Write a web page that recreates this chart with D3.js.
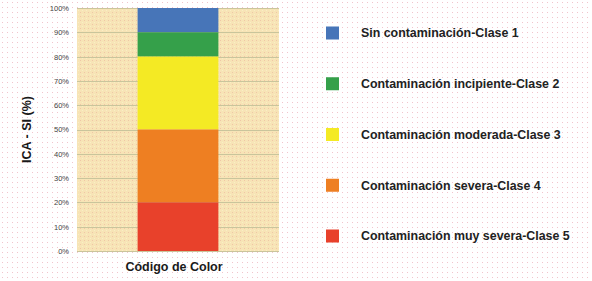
<!DOCTYPE html>
<html lang="es">
    <head>
        <meta charset="utf-8">
        <title>Código de Color ICA - SI</title>
        <script type="text/javascript" src="https://d3js.org/d3.v7.min.js"></script>
        <style>
            body {
                margin: 0;
                background: white;
            }

            text {
                font-family: "Liberation Sans", Arial, sans-serif;
            }

            .tick text {
                font-size: 7.5px;
                fill: #444;
            }

            .title {
                font-weight: bold;
                font-size: 12.5px;
                fill: #1a1a1a;
            }

            .legendLabel {
                font-weight: bold;
                font-size: 12.4px;
                fill: #222;
            }
        </style>
    </head>
    <body>
        <div id="svgContainer"></div>
        <script type="text/javascript">
            //chart data
            let classes = ["Sin contaminación-Clase 1", "Contaminación incipiente-Clase 2",
                           "Contaminación moderada-Clase 3", "Contaminación severa-Clase 4",
                           "Contaminación muy severa-Clase 5"];
            let lowerBounds = [90, 80, 50, 20, 0];
            let upperBounds = [100, 90, 80, 50, 20];
            let classColors = ["#4775b8", "#35a04a", "#f4ea24", "#ee7f22", "#e8412b"];
            let yTicks = [0, 10, 20, 30, 40, 50, 60, 70, 80, 90, 100];
            let category = ["Código de Color"];

            //svg size
            let w = 592;
            let h = 281;
            let plotLeft = 77, plotRight = 279, plotTop = 8, plotBottom = 251;

            let svg = d3.select("#svgContainer")
                        .append("svg")
                        .attr("width", w)
                        .attr("height", h);

            //dotted page background
            let defs = svg.append("defs");
            let dots = defs.append("pattern")
                        .attr("id", "dots")
                        .attr("width", 5)
                        .attr("height", 5)
                        .attr("patternUnits", "userSpaceOnUse");
            dots.append("rect").attr("width", 5).attr("height", 5).attr("fill", "white");
            dots.append("rect").attr("x", 2).attr("y", 2).attr("width", 1).attr("height", 1).attr("fill", "#f2c4cc");

            //beige speckled plot background
            let beige = defs.append("pattern")
                        .attr("id", "beige")
                        .attr("width", 4)
                        .attr("height", 4)
                        .attr("patternUnits", "userSpaceOnUse");
            beige.append("rect").attr("width", 4).attr("height", 4).attr("fill", "#f7e4b6");
            beige.append("rect").attr("x", 0).attr("y", 0).attr("width", 1).attr("height", 1).attr("fill", "#f0c6a6");
            beige.append("rect").attr("x", 2).attr("y", 2).attr("width", 1).attr("height", 1).attr("fill", "#faeec6");

            svg.append("rect")
                .attr("width", w)
                .attr("height", h)
                .attr("fill", "url(#dots)");

            //scales
            let xScale = d3.scaleBand()
                        .domain(category)
                        .range([plotLeft, plotRight])
                        .paddingInner(0.6)
                        .paddingOuter(0.3);

            let yScale = d3.scaleLinear()
                        .domain([0, 100])
                        .range([plotBottom, plotTop]);

            svg.append("rect")
                .attr("x", plotLeft)
                .attr("y", plotTop)
                .attr("width", plotRight - plotLeft)
                .attr("height", plotBottom - plotTop)
                .attr("fill", "url(#beige)");

            //gridlines
            svg.append("g")
                .selectAll("line")
                .data(yTicks)
                .enter()
                .append("line")
                .attr("x1", plotLeft)
                .attr("x2", plotRight)
                .attr("y1", d => Math.round(yScale(d)) + 0.5)
                .attr("y2", d => Math.round(yScale(d)) + 0.5)
                .attr("stroke", "#c9c59c")
                .attr("stroke-width", 1);

            //stacked segments
            svg.append("g")
                .selectAll("rect")
                .data(classes)
                .enter()
                .append("rect")
                .attr("x", xScale(category[0]))
                .attr("y", (d, i) => yScale(upperBounds[i]))
                .attr("width", xScale.bandwidth())
                .attr("height", (d, i) => yScale(lowerBounds[i]) - yScale(upperBounds[i]))
                .attr("fill", (d, i) => classColors[i]);

            //y axis
            let yAxis = d3.axisLeft(yScale)
                        .tickValues(yTicks)
                        .tickSize(0)
                        .tickPadding(8)
                        .tickFormat(d => d + "%");

            svg.append("g")
                .attr("class", "axis-y")
                .attr("transform", `translate(${plotLeft}, 0)`)
                .call(yAxis)
                .call(g => g.select(".domain").remove());

            //axis titles
            svg.append("text")
                .attr("class", "title")
                .attr("text-anchor", "middle")
                .attr("transform", `translate(31, ${(plotTop + plotBottom) / 2}) rotate(-90)`)
                .text("ICA - SI (%)");

            svg.append("text")
                .attr("class", "title")
                .attr("text-anchor", "middle")
                .attr("x", xScale(category[0]) + xScale.bandwidth() / 2 - 4)
                .attr("y", 271)
                .text(category[0]);

            //legend
            let legendY = d3.scalePoint()
                        .domain(classes)
                        .range([33, 236]);

            let legend = svg.append("g")
                        .selectAll("g")
                        .data(classes)
                        .enter()
                        .append("g")
                        .attr("transform", d => `translate(326, ${legendY(d)})`);

            legend.append("rect")
                .attr("x", 0)
                .attr("y", -6.5)
                .attr("width", 13)
                .attr("height", 13)
                .attr("fill", (d, i) => classColors[i]);

            legend.append("text")
                .attr("class", "legendLabel")
                .attr("x", 35)
                .attr("dy", "0.35em")
                .text(d => d);
        </script>
    </body>
</html>
